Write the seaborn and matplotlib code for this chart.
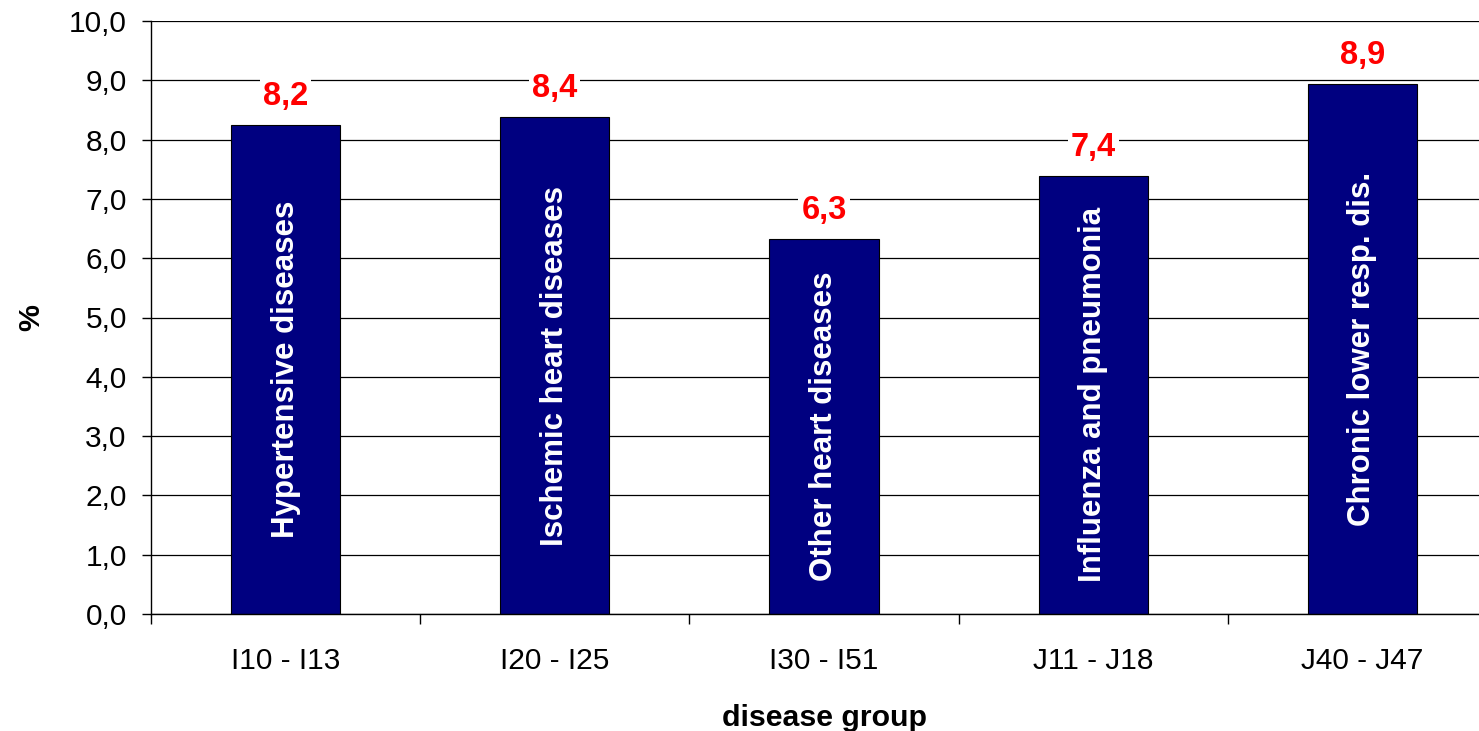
import numpy as np
import matplotlib
matplotlib.use("Agg")
import matplotlib.pyplot as plt
from matplotlib.ticker import FixedLocator, FuncFormatter
import seaborn as sns

codes = ["I10 - I13", "I20 - I25", "I30 - I51", "J11 - J18", "J40 - J47"]
names = ["Hypertensive diseases", "Ischemic heart diseases", "Other heart diseases",
         "Influenza and pneumonia", "Chronic lower resp. dis."]
values = [8.24, 8.38, 6.32, 7.39, 8.94]
y_ticks = np.arange(0, 11, 1)

sns.set_style("white")
plt.rcParams["font.family"] = ["Liberation Sans", "DejaVu Sans"]
plt.rcParams.update({"text.color": "black", "axes.labelcolor": "black",
                     "xtick.color": "black", "ytick.color": "black"})

fig = plt.figure(figsize=(14.79, 7.31), dpi=100)
ax = fig.add_axes([151 / 1479, 1 - 614 / 731, 1346 / 1479, 593 / 731])

sns.barplot(x=codes, y=values, color="#000080", width=0.405, saturation=1,
            edgecolor="black", linewidth=0.8, ax=ax)

ax.set_xlim(-0.5, 4.5)
ax.set_ylim(0, 10)
ax.set_yticks(y_ticks)
ax.yaxis.set_major_formatter(FuncFormatter(lambda v, p: f"{v:.1f}".replace(".", ",")))
ax.yaxis.grid(True, color="black", linewidth=0.9)
ax.set_axisbelow(True)

for side in ["top", "right"]:
    ax.spines[side].set_visible(False)
for side in ["left", "bottom"]:
    ax.spines[side].set_color("black")
    ax.spines[side].set_linewidth(1.0)

ax.tick_params(axis="y", direction="out", length=6.5, width=1, color="black",
               labelcolor="black", labelsize=21.5, pad=11, left=True)
ax.tick_params(axis="x", which="major", length=0, labelsize=21.5, pad=23.5,
               labelcolor="black")
ax.xaxis.set_minor_locator(FixedLocator(np.arange(-0.5, 5, 1)))
ax.tick_params(axis="x", which="minor", direction="out", length=7.5, width=1,
               color="black", bottom=True)

for i, (v, name) in enumerate(zip(values, names)):
    ax.text(i, v / 2, name, rotation=90, ha="center", va="center",
            color="white", fontsize=22.5, fontweight="bold")
    ax.annotate(f"{v:.1f}".replace(".", ","), xy=(i, v), xytext=(0, 20.5),
                textcoords="offset points", ha="center", va="center",
                color="red", fontsize=23.5, fontweight="bold",
                bbox=dict(facecolor="white", edgecolor="none", pad=2))

ax.set_xlabel("disease group", fontsize=21.8, fontweight="bold", va="center",
              color="black")
ax.xaxis.set_label_coords(0.5, (614 - 718) / 593)
ax.set_ylabel("%", fontsize=21.8, fontweight="bold", va="center", color="black")
ax.yaxis.set_label_coords((31 - 151) / 1346, 0.5)

fig.savefig("out.png", dpi=100)
